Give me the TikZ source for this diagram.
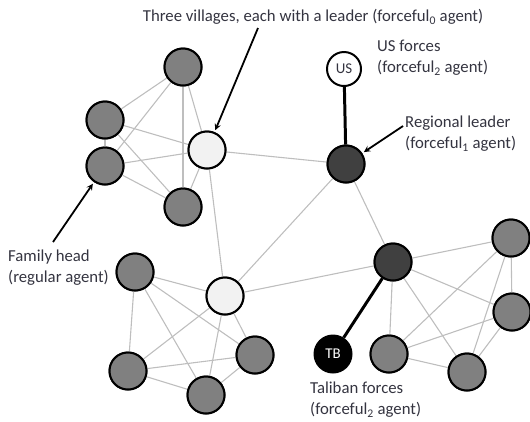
\documentclass[tikz,border=0pt]{standalone}
\usepackage{fontspec}
\setmainfont{Carlito}
\usepackage{xcolor}
\usepackage{tikz}
\definecolor{labeltext}{RGB}{52,52,64}
\definecolor{linkgray}{RGB}{190,190,190}
\definecolor{leaderdark}{RGB}{64,64,64}
\tikzset{
  agent/.style={circle,draw=black,line width=2pt,minimum size=37bp,inner sep=0pt,fill=black!50},
  village/.style={agent,fill=black!5},
  regional/.style={agent,fill=leaderdark},
  force/.style={circle,draw=black,line width=2pt,inner sep=0pt,font=\fontsize{15}{17}\selectfont},
  link/.style={draw=linkgray,line width=1.1pt},
  tie/.style={draw=black,line width=3pt},
  note/.style={text=labeltext,font=\fontsize{16.8}{21}\selectfont,align=left,inner sep=0pt},
  pointer/.style={->,line width=1.8pt,shorten >=2bp}
}
\begin{document}
\begin{tikzpicture}[x=1bp,y=-1bp,>=stealth]
\useasboundingbox (0,0) rectangle (530,421);

% Village 1 (top left)
\node[agent] (a1) at (183,67) {};
\node[agent] (a2) at (105,120) {};
\node[agent] (a3) at (105,166) {};
\node[agent] (a4) at (183,207) {};
\node[village] (v1) at (207,150) {};

% Village 2 (bottom left)
\node[agent] (b1) at (135,272) {};
\node[agent] (b2) at (128,371) {};
\node[agent] (b3) at (206,395) {};
\node[agent] (b4) at (255,355) {};
\node[village] (v2) at (225,296) {};

% Village 3 (right)
\node[agent] (c1) at (511,238) {};
\node[agent] (c2) at (512,312) {};
\node[agent] (c3) at (389,354) {};
\node[agent] (c4) at (467,372) {};
\node[regional] (v3) at (393,262) {};

% Regional leader and forces
\node[regional] (rl) at (346,164) {};
\node[force,minimum size=34bp,fill=white,text=labeltext] (us) at (344,69) {US};
\node[force,minimum size=37bp,fill=black,text=white] (tb) at (333,354) {TB};

% Links
\foreach \u/\w in {a1/a2,a1/a3,a1/a4,a1/v1,a2/a3,a2/a4,a2/v1,a3/a4,a3/v1,a4/v1,
                   b1/b2,b1/b3,b1/b4,b1/v2,b2/b3,b2/b4,b2/v2,b3/b4,b3/v2,b4/v2,
                   c1/c2,c1/c3,c1/c4,c1/v3,c2/c3,c2/c4,c2/v3,c3/c4,c3/v3,c4/v3,
                   v1/v2,v1/rl,v2/rl,v2/v3,rl/v3}
  \draw[link] (\u) -- (\w);
\draw[tie] (us) -- (rl);
\draw[tie] (tb) -- (v3);

% Redraw the agents on top of the links
\foreach \n in {a1,a2,a3,a4,b1,b2,b3,b4,c1,c2,c3,c4}
  \node[agent] at (\n) {};
\node[village] at (v1) {};
\node[village] at (v2) {};
\node[regional] at (v3) {};
\node[regional] at (rl) {};

% Labels
\node[note,anchor=south] (villages) at (313,25) {Three villages, each with a leader (forceful\textsubscript{0} agent)};
\node[note,anchor=west] (usnote) at (377,58) {US forces\\(forceful\textsubscript{2} agent)};
\node[note,anchor=west] (rlnote) at (405,134) {Regional leader\\(forceful\textsubscript{1} agent)};
\node[note,anchor=west] (famnote) at (8,268) {Family head\\(regular agent)};
\node[note,anchor=west] (tbnote) at (310,400) {Taliban forces\\(forceful\textsubscript{2} agent)};

% Pointers
\coordinate (p1) at (258,28);
\coordinate (p2) at (403,126);
\coordinate (p3) at (53,242);
\draw[pointer] (p1) -- (v1);
\draw[pointer] (p2) -- (rl);
\draw[pointer] (p3) -- (a3);
\end{tikzpicture}
\end{document}
